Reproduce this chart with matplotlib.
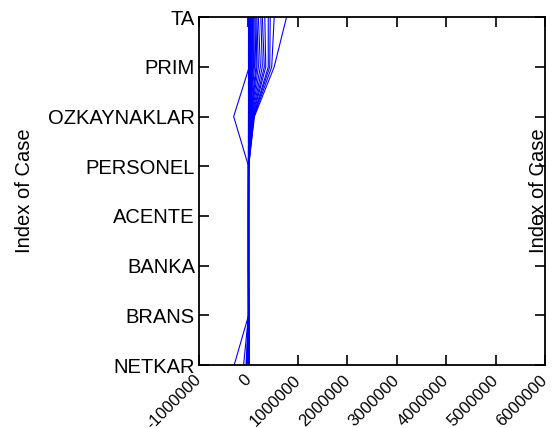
import matplotlib
matplotlib.use("Agg")
import matplotlib.pyplot as plt
import numpy as np

## variable names, bottom to top
variables = ["NETKAR", "BRANS", "BANKA", "ACENTE", "PERSONEL", "OZKAYNAKLAR", "PRIM", "TA"]

## one value per case for every variable
netkar = [20000, 15000, 12000, 10000, 8000, 5000, 4000, 3000, 2000, 1000,
          0, -1000, -2000, -3000, -5000, -8000, -10000, -15000, -20000, -30000,
          -40000, -50000, 5000, 2000, 1000, 0, -290000, -100000, 10000, 0]
brans = [4000, 3500, 3000, 2500, 2000, 1800, 1500, 1200, 1000, 900,
         800, 700, 600, 500, 400, 300, 250, 200, 150, 100,
         80, 60, 50, 40, 30, 20, 1000, 500, 0, 0]
banka = [600, 500, 450, 400, 350, 300, 250, 200, 180, 160,
         140, 120, 100, 90, 80, 70, 60, 50, 40, 30,
         20, 15, 10, 8, 6, 4, 100, 50, 0, 0]
acente = [300, 280, 250, 220, 200, 180, 160, 140, 120, 100,
          90, 80, 70, 60, 50, 40, 30, 25, 20, 15,
          10, 8, 6, 4, 2, 1, 50, 20, 0, 0]
personel = [2000, 1800, 1600, 1500, 1400, 1200, 1000, 900, 800, 700,
            600, 500, 450, 400, 350, 300, 250, 200, 150, 100,
            80, 60, 40, 30, 20, 10, 500, 300, 0, 0]
ozkaynaklar = [120000, 110000, 100000, 95000, 85000, 75000, 65000, 55000, 50000, 45000,
               40000, 35000, 30000, 25000, 20000, 18000, 15000, 12000, 10000, 8000,
               6000, 5000, 3000, 2000, 1000, 500, -300000, 4000, 1000, 0]
prim = [520000, 470000, 430000, 400000, 350000, 320000, 280000, 240000, 200000, 170000,
        150000, 120000, 100000, 85000, 70000, 60000, 50000, 40000, 32000, 25000,
        18000, 12000, 8000, 5000, 3000, 1000, 15000, 20000, 5000, 0]
ta = [770000, 520000, 440000, 400000, 330000, 280000, 250000, 200000, 170000, 150000,
      130000, 110000, 95000, 80000, 65000, 55000, 45000, 38000, 30000, 22000,
      16000, 12000, 8000, 5000, 3000, 1000, 25000, 30000, 8000, 0]

plt.rcParams["font.family"] = ["Liberation Sans", "DejaVu Sans"]

fig = plt.figure(figsize=(5.53, 4.28), dpi=100)
ax = fig.add_axes([0.36, 0.147, 0.6255, 0.813])

cases = np.array([netkar, brans, banka, acente, personel, ozkaynaklar, prim, ta])
y = np.arange(len(variables))
for i in range(cases.shape[1]):
    ax.plot(cases[:, i], y, color="#0000ff", linewidth=0.8)

ax.set_xlim(-1000000, 6000000)
ax.set_ylim(0, len(variables) - 1)

ax.set_yticks(y)
ax.set_yticklabels(variables, fontsize=14.5)
xt = np.arange(-1000000, 6000001, 1000000)
ax.set_xticks(xt)
ax.set_xticklabels([str(v) for v in xt], fontsize=12, rotation=45,
                   ha="right", va="center", rotation_mode="anchor")

ax.tick_params(direction="in", length=7, width=1.2, top=True, right=True)
ax.tick_params(axis="x", pad=9)
ax.tick_params(axis="y", pad=3)
for s in ax.spines.values():
    s.set_linewidth(1.3)

ax.set_ylabel("Index of Case", fontsize=14.5, labelpad=10)
fig.text(538 / 553, 0.554, "Index of Case", rotation=90, fontsize=14.5,
         ha="center", va="center")

plt.savefig("out.png")
